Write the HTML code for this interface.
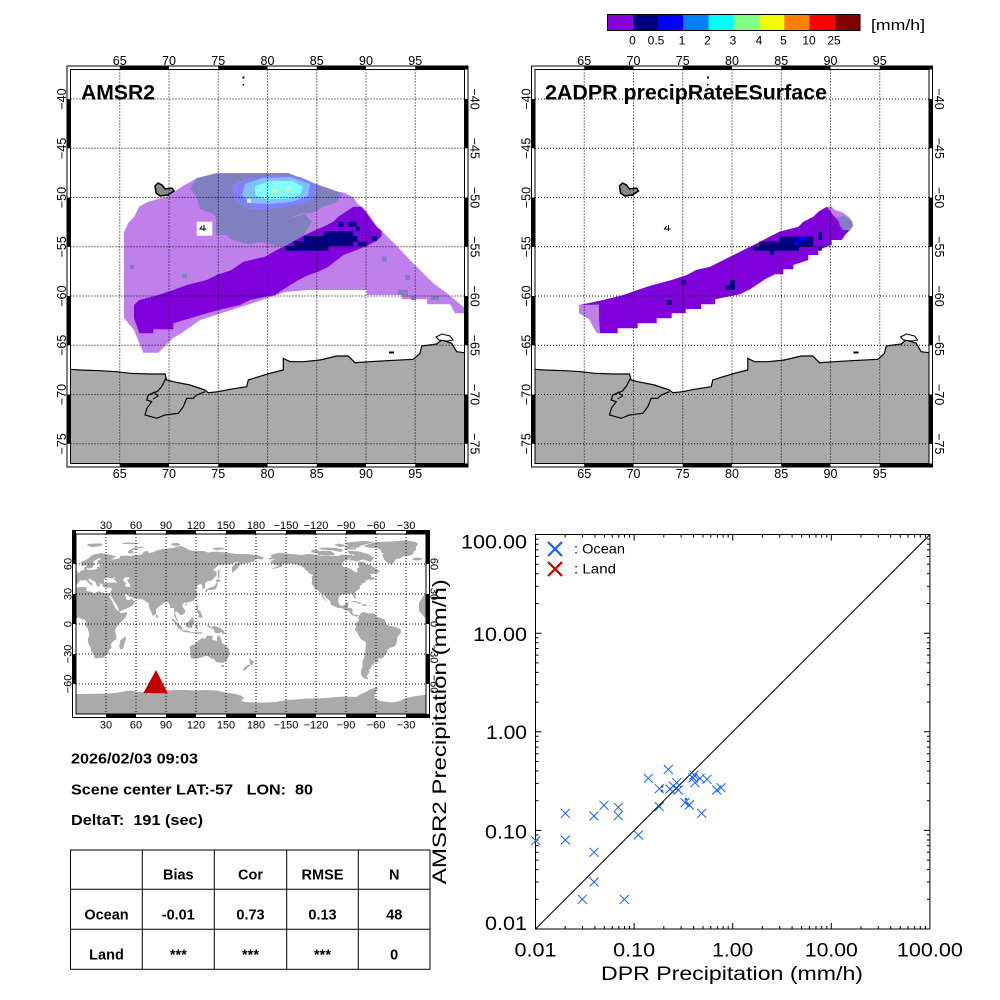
<!DOCTYPE html>
<html><head><meta charset="utf-8"><style>
html,body{margin:0;padding:0;background:#fff;}
svg{display:block;font-family:"Liberation Sans",Arial,sans-serif;}
</style></head><body>
<svg width="1000" height="1000" viewBox="0 0 1000 1000" xmlns="http://www.w3.org/2000/svg">
<defs>
<clipPath id="cl"><rect x="70.5" y="69.5" width="394" height="394"/></clipPath>
<clipPath id="cr"><rect x="535" y="69.5" width="394" height="394"/></clipPath>
<clipPath id="cw"><rect x="76" y="534" width="350" height="180"/></clipPath>
<g id="coast">
<polygon fill="#aaaaaa" points="70.5,369.3 80,370 100,370.7 116.7,371.7 130,373.3 150,374 165,374 166.7,380 173.3,381.7 190,385 205,390 208.3,392.7 218.3,391.7 230,389.3 246.7,386.7 248.3,380 256.7,377.3 270,373.3 283.3,370 283.3,358.3 290,361.7 303.3,361.7 320,360 336.7,356 348.3,356 355,362.7 370,361.7 386.7,360.7 413.3,359.3 420,353.3 421.7,346 436.7,344 441.7,340 451.7,343.3 456.7,351.7 464.5,352.7 464.5,463.5 70.5,463.5"/>
<polyline fill="none" stroke="#000" stroke-width="1.2" points="70.5,369.3 80,370 100,370.7 116.7,371.7 130,373.3 150,374 165,374 166.7,380 173.3,381.7 190,385 205,390 208.3,392.7 218.3,391.7 230,389.3 246.7,386.7 248.3,380 256.7,377.3 270,373.3 283.3,370 283.3,358.3 290,361.7 303.3,361.7 320,360 336.7,356 348.3,356 355,362.7 370,361.7 386.7,360.7 413.3,359.3 420,353.3 421.7,346 436.7,344 441.7,340 451.7,343.3 456.7,351.7 464.5,352.7"/>
<polyline fill="none" stroke="#000" stroke-width="1.2" points="166,378 162,386 158,391 148.3,395 146.7,400 151.7,401.7 147,408 145,415 156.7,418.3 165,415 178.3,413.3 183.3,406.7 186.7,398.3 193.3,398.3 196.7,395 205,391.7"/>
<polyline fill="none" stroke="#000" stroke-width="1" points="150,395 154,392 158,396 153,399"/>
<rect x="389" y="351.5" width="5" height="2" fill="#000"/>
<path d="M436,337 l6,-3 l8,2 l3,4 l-6,1 l-8,-1 z" fill="#fff" stroke="#000"/>
<path d="M155,186 L158,183 L162,185 L165,189 L172,188 L174,191 L168,195 L160,196 L156,193 Z" fill="#888" stroke="#000" stroke-width="1.5"/>
<rect x="242.5" y="76.5" width="2" height="2" fill="#000"/>
<rect x="242.5" y="84" width="1.5" height="1.5" fill="#000"/>
</g>
<g id="grid" stroke="#000" stroke-width="1" stroke-dasharray="1,2" fill="none">
<path d="M119.75,69.5V463.5M169,69.5V463.5M218.25,69.5V463.5M267.5,69.5V463.5M316.75,69.5V463.5M366,69.5V463.5M415.25,69.5V463.5"/>
<path d="M70.5,99.05H464.5M70.5,148.3H464.5M70.5,197.55H464.5M70.5,246.8H464.5M70.5,296.05H464.5M70.5,345.3H464.5M70.5,394.55H464.5M70.5,443.8H464.5"/>
</g>
<g id="frm">
<rect x="67" y="66" width="401" height="401" fill="none" stroke="#000"/>
<rect x="70.5" y="69.5" width="394" height="394" fill="none" stroke="#000"/>
<g fill="#000">
<rect x="119.75" y="66" width="49.25" height="3.5"/><rect x="218.25" y="66" width="49.25" height="3.5"/><rect x="316.75" y="66" width="49.25" height="3.5"/><rect x="415.25" y="66" width="52.75" height="3.5"/>
<rect x="119.75" y="463.5" width="49.25" height="3.5"/><rect x="218.25" y="463.5" width="49.25" height="3.5"/><rect x="316.75" y="463.5" width="49.25" height="3.5"/><rect x="415.25" y="463.5" width="52.75" height="3.5"/>
<rect x="67" y="99.05" width="3.5" height="49.25"/><rect x="67" y="197.55" width="3.5" height="49.25"/><rect x="67" y="296.05" width="3.5" height="49.25"/><rect x="67" y="394.55" width="3.5" height="49.25"/>
<rect x="464.5" y="99.05" width="3.5" height="49.25"/><rect x="464.5" y="197.55" width="3.5" height="49.25"/><rect x="464.5" y="296.05" width="3.5" height="49.25"/><rect x="464.5" y="394.55" width="3.5" height="49.25"/>
</g>
</g>
</defs>

<!-- ===== Colorbar ===== -->
<g>
<rect x="607.5" y="14.5" width="25.25" height="16" fill="#8800dc"/>
<rect x="632.75" y="14.5" width="25.25" height="16" fill="#000080"/>
<rect x="658" y="14.5" width="25.25" height="16" fill="#0000ff"/>
<rect x="683.25" y="14.5" width="25.25" height="16" fill="#0080ff"/>
<rect x="708.5" y="14.5" width="25.25" height="16" fill="#00ffff"/>
<rect x="733.75" y="14.5" width="25.25" height="16" fill="#80ff80"/>
<rect x="759" y="14.5" width="25.25" height="16" fill="#f0ff00"/>
<rect x="784.25" y="14.5" width="25.25" height="16" fill="#ff8000"/>
<rect x="809.5" y="14.5" width="25.25" height="16" fill="#ff0000"/>
<rect x="834.75" y="14.5" width="25.25" height="16" fill="#800000"/>
<rect x="607.5" y="14.5" width="252.5" height="16" fill="none" stroke="#000"/>
<g font-size="12" text-anchor="middle">
<text x="632.5" y="44.5">0</text><text x="656" y="44.5">0.5</text><text x="682" y="44.5">1</text><text x="707.5" y="44.5">2</text><text x="733" y="44.5">3</text><text x="759" y="44.5">4</text><text x="783.5" y="44.5">5</text><text x="809" y="44.5">10</text><text x="834" y="44.5">25</text>
</g>
<text x="871" y="30" font-size="15" textLength="54" lengthAdjust="spacingAndGlyphs">[mm/h]</text>
</g>

<!-- ===== Left map (AMSR2) ===== -->
<g clip-path="url(#cl)">
<polygon fill="#c080ec" points="124,232 128.7,222.3 134.3,216.7 139,206.7 148,201.7 166.7,196.7 181.7,186.7 196.7,178.3 216,173.3 288,173 313,183 338,191.7 342.7,192.3 353.3,197.3 356.7,202.7 366.7,211.7 376.7,226.7 381.7,231 391.7,241 396.7,246 406.7,256.7 416.7,266.7 426.7,276.7 433.3,283.3 445,291.7 455,300 465,308.3 465,313.3 455,313.3 450,304.3 427,304.3 427,299.3 401.7,299.3 401.7,295 366.7,295 366.7,290 308,290 285,292 250,304 222,313 200,320 181.7,333 173,338 168,343 158.3,352.7 143.3,352.7 139.3,343.3 134,330 124,318"/>
<polygon fill="#8080c0" points="190,189 196.7,178.3 216,173.3 288,173 313,183 338,191.7 342,196 335,203 322,207 315,212 300,214 290,218 275,220 260,222 250,226 240,229 232,226 218,222 214,214 200,209 196,196"/>
<polygon fill="#8080c0" points="216,216 230,219 260,222 290,218 305,214 312,222 303,236 293,241 285,246 276,246 262,242 248,244 232,240 226,235 216,235"/>
<g fill="#8080c0"><rect x="130" y="265" width="4" height="4"/><rect x="182" y="274" width="5" height="4"/><rect x="381.7" y="256.7" width="5" height="5"/><rect x="405" y="275" width="5" height="5"/><rect x="398" y="290" width="10" height="5"/><rect x="411" y="296" width="5" height="4"/><rect x="431" y="296" width="8" height="4"/></g>
<polygon fill="#8080ff" points="232,185 250,178 275,175 300,177 318,185 315,198 300,205 280,207 260,210 245,208 235,200"/>
<polygon fill="#80c0ff" points="245,184 262,178 290,177 310,184 308,196 292,202 270,204 250,203 242,195"/>
<polygon fill="#80ffff" points="255,186 270,181 292,181 303,187 300,195 285,199 265,199 255,195"/>
<g fill="#c0ffc0"><rect x="272" y="189" width="5" height="4"/><rect x="286" y="187" width="4" height="4"/><rect x="247" y="199" width="4" height="4"/></g>
<polygon fill="#8000dc" points="134,305 139.3,300 158.3,295 173.3,290 186.7,285 206.7,280 216.7,275 231.7,270 243.3,261.7 265,256.7 276.7,250 285,246 303,236 313.3,231 323.3,226.7 333.3,221.7 338.3,216.7 353.3,206.7 361.7,206.7 366.7,213.3 376.7,226.7 381.7,231 381.7,236 376.7,241 366.7,246 356.7,250 343.3,255 328.3,266.7 318.3,271.7 308.3,275 298.3,280 285,288.3 275,295 265,296.7 250,300 240,305 221.7,309.3 206.7,313.3 186.7,319.3 173.3,323.3 173.3,329.3 153.3,329.3 153.3,333.3 139.3,333.3 134,318.3"/>
<polygon fill="#000080" points="285,246 293.3,246 293.3,241 303.3,241 303.3,236 323.3,236 323.3,231 353.3,231 353.3,236 357.3,236 357.3,241.7 353.3,241.7 353.3,246 328.3,246 328.3,250.7 285,250.7"/>
<g fill="#000080"><rect x="338.3" y="221.7" width="5" height="5"/><rect x="348.3" y="221.7" width="8.4" height="5"/><rect x="357.3" y="241.7" width="9.4" height="4.3"/><rect x="371.7" y="236" width="5" height="5"/><rect x="356" y="226.7" width="4" height="4.3"/></g>
<rect x="196.7" y="221.7" width="15.6" height="14" fill="#fff"/>
<path d="M202,226 l-2,3 h6 M204,225 v6" stroke="#000" fill="none" stroke-width="1"/>
<use href="#coast"/>
<use href="#grid"/>
</g>
<use href="#frm"/>
<text x="81" y="99.5" font-size="21" font-weight="bold" textLength="74" lengthAdjust="spacingAndGlyphs">AMSR2</text>
<g font-size="12.5" text-anchor="middle">
<text x="119.75" y="65">65</text><text x="169" y="65">70</text><text x="218.25" y="65">75</text><text x="267.5" y="65">80</text><text x="316.75" y="65">85</text><text x="366" y="65">90</text><text x="415.25" y="65">95</text>
<text x="119.75" y="478">65</text><text x="169" y="478">70</text><text x="218.25" y="478">75</text><text x="267.5" y="478">80</text><text x="316.75" y="478">85</text><text x="366" y="478">90</text><text x="415.25" y="478">95</text>
<text transform="translate(66,99.05) rotate(-90)">−40</text><text transform="translate(66,148.3) rotate(-90)">−45</text><text transform="translate(66,197.55) rotate(-90)">−50</text><text transform="translate(66,246.8) rotate(-90)">−55</text><text transform="translate(66,296.05) rotate(-90)">−60</text><text transform="translate(66,345.3) rotate(-90)">−65</text><text transform="translate(66,394.55) rotate(-90)">−70</text><text transform="translate(66,443.8) rotate(-90)">−75</text>
<text transform="translate(470.5,99.05) rotate(90)">−40</text><text transform="translate(470.5,148.3) rotate(90)">−45</text><text transform="translate(470.5,197.55) rotate(90)">−50</text><text transform="translate(470.5,246.8) rotate(90)">−55</text><text transform="translate(470.5,296.05) rotate(90)">−60</text><text transform="translate(470.5,345.3) rotate(90)">−65</text><text transform="translate(470.5,394.55) rotate(90)">−70</text><text transform="translate(470.5,443.8) rotate(90)">−75</text>
</g>

<!-- ===== Right map (DPR) ===== -->
<g clip-path="url(#cr)">
<polygon fill="#8000dc" points="579.3,305 603.3,300 623.3,295 637.3,290 652.7,285 671.7,280 686.7,275 696,270 710,266.7 720,261.7 730,256.7 740,251.7 750,246.7 760,241.7 779.3,231.7 798.3,226.7 803.3,221.7 813.3,216.7 818.3,211.7 826.7,206.7 831.7,206.7 838,215 845,222 851.7,228 845,235 841.7,240 831.7,240 831.7,245 818.3,250 818.3,255 808.3,255 808.3,260 793.3,265 793.3,269.3 783.3,269.3 783.3,274.3 775,274.3 765,279.3 750,289.3 740,294.3 715,299.3 715,304.3 701,304.3 701,309 685.7,309 685.7,313.3 671.7,313.3 671.7,318.3 656.7,318.3 656.7,323.3 637.7,323.3 637.7,328.3 617.7,328.3 617.7,333.3 599.3,333.3 594,328.3 589.3,319.3 579.3,313.3"/>
<polygon fill="#c080ec" points="579.3,305 599,304.5 599,318 600,333.3 597,333.3 594,328.3 589.3,319.3 579.3,313.3"/>
<polygon fill="#c080ec" points="826.7,206.7 831.7,206.7 835,210 842,212 850,218 853,225 850,230 845,230 840,222 833,215"/>
<polygon fill="#8080c0" points="837,217 845,216 852,221 853,226 850,230 843,230 840,226"/>
<g fill="#000080">
<rect x="779.3" y="236.7" width="34" height="10"/><rect x="759" y="241.7" width="40" height="9"/><rect x="753.3" y="246.7" width="10" height="4"/>
<rect x="818.3" y="231.7" width="3.4" height="8.3"/><rect x="818.3" y="246.7" width="3.4" height="4"/><rect x="681" y="280" width="4.7" height="4.3"/><rect x="725" y="285" width="10" height="5"/><rect x="730" y="280" width="5" height="5"/><rect x="666.7" y="300" width="5" height="5"/><rect x="769.3" y="250" width="4.7" height="5"/>
</g>
<g fill="#0000ff"><rect x="798.3" y="236.7" width="8.4" height="4"/><rect x="793.3" y="240.7" width="5" height="4.3"/></g>
<path d="M666.5,226 l-2,3 h6 M668.5,225 v6" stroke="#000" fill="none" stroke-width="1"/>
<use href="#coast" transform="translate(464.5,0)"/>
<use href="#grid" transform="translate(464.5,0)"/>
</g>
<use href="#frm" transform="translate(464.5,0)"/>
<text x="545" y="99.5" font-size="21" font-weight="bold" textLength="282" lengthAdjust="spacingAndGlyphs">2ADPR precipRateESurface</text>
<g font-size="12.5" text-anchor="middle">
<text x="584.25" y="65">65</text><text x="633.5" y="65">70</text><text x="682.75" y="65">75</text><text x="732" y="65">80</text><text x="781.25" y="65">85</text><text x="830.5" y="65">90</text><text x="879.75" y="65">95</text>
<text x="584.25" y="478">65</text><text x="633.5" y="478">70</text><text x="682.75" y="478">75</text><text x="732" y="478">80</text><text x="781.25" y="478">85</text><text x="830.5" y="478">90</text><text x="879.75" y="478">95</text>
<text transform="translate(530.5,99.05) rotate(-90)">−40</text><text transform="translate(530.5,148.3) rotate(-90)">−45</text><text transform="translate(530.5,197.55) rotate(-90)">−50</text><text transform="translate(530.5,246.8) rotate(-90)">−55</text><text transform="translate(530.5,296.05) rotate(-90)">−60</text><text transform="translate(530.5,345.3) rotate(-90)">−65</text><text transform="translate(530.5,394.55) rotate(-90)">−70</text><text transform="translate(530.5,443.8) rotate(-90)">−75</text>
<text transform="translate(935,99.05) rotate(90)">−40</text><text transform="translate(935,148.3) rotate(90)">−45</text><text transform="translate(935,197.55) rotate(90)">−50</text><text transform="translate(935,246.8) rotate(90)">−55</text><text transform="translate(935,296.05) rotate(90)">−60</text><text transform="translate(935,345.3) rotate(90)">−65</text><text transform="translate(935,394.55) rotate(90)">−70</text><text transform="translate(935,443.8) rotate(90)">−75</text>
</g>

<!-- ===== World map ===== -->
<g clip-path="url(#cw)">
<g transform="translate(76,624) scale(1,-1)" fill="#aaaaaa">
<g id="eaf">
<polygon points="-10,36 -9,43 -2,43.5 -1.5,46 -5,48 -1,49.5 2,51 4,52 5,53.5 8,54 8.5,57 10.5,57.5 10.5,59 6,58 5,60 5,62 9,63.5 13,66 16,69 20,70 25,71 30,70 33,69.5 40,67.5 38,66 35,65 38,64.5 44,66 44,68 50,68.5 55,68 60,69 66,69.5 68,72.5 72,73 73,71 78,72 80,73.5 87,75 97,76 101,77.5 105,78 108,77 113,74 119,73 128,73 132,71.5 140,72.5 150,71.5 160,70 170,70 180,69 188,66.5 186,64.5 180,65 178,62.5 172,61 165,60 163,58 162,56 156,51 156,57 160,61 164,62 160,62 155,59.5 150,59.5 143,59 137,54 141,52 140,48 135,43 132,43 129,41 129,36 126,35 126.5,37.5 125,40 121.5,39 121,37.5 122.5,37 119,35 121,32 122,30 120,26 117,23 113,22 110,21 108,21.5 106,18 109,14 109,11 106,9 104.5,9 103,10.5 100,13 99,10 100.5,7 101,5 103,2 104,1.5 101,3 98,8 98.5,12 98,16 94,16 94,19 92,22 90,22 87,21 86.5,20 80,15 80,10 77,8 76,10 73,17 72.5,21 70,22.5 67,24.5 62,25 57.5,25.5 56,27 54,27 50,30 48,30 50,26.5 51,24 54,24 56,26 57,23.5 59.5,22.5 57,19 55,17.5 52,16 45,13 43,12.5 42.5,15 40,20 38.5,22 37,25 35,28 34.5,29.5 34,31 35,33 36,35.5 33,36.5 30,36.5 27,37 26.5,40 23.5,40.5 24,38.5 22,37 21,38.5 20,40 19.5,42 13.5,45.5 12.3,44.2 14,42 16.5,40.5 16,38 15.5,38.5 12,41.5 10,44 7,43.5 4,43.5 3,42 0,39 -0.5,38 -2,36.7 -5.5,36"/>
<polygon points="-17,15 -17,21 -13,27.5 -10,30 -9.5,32.5 -6,35.8 -2,35.2 3,36.8 10,37.2 11,35 10,34 11,33 15,32.3 19,30.5 20,32 23,32.7 25,31.7 29,31 32,31.2 34,31.3 34.3,28 33,28 35.5,24 37,21 38.5,18 39.5,15.5 41,14 43.3,12.5 44,11 51,11.8 51,10 49,6 47,4 43,0 41,-2 39.5,-5 39,-8 40,-10.5 40.5,-15 37,-17.5 35,-20 35.5,-22 35.5,-24 32.8,-26 32.5,-29 30,-31.5 27,-33.8 22,-34 20,-34.8 18.5,-34 18,-32 17,-29 15,-27 14.5,-23 13,-21 11.8,-17 12,-14 13.5,-12 13,-9 12,-6 12.3,-5 9,-1 9.5,2 9.5,3.5 8.5,4.5 6,4.3 4,6.3 2,6.3 -2,4.8 -5,5.2 -8,4.4 -11.5,6.8 -13.3,9 -15,11 -16.7,12.5"/>
<polygon points="44,-25 47,-25 49.5,-16 50.3,-15.5 49.2,-12 47,-14 44.3,-16.5 43.3,-22"/>
<polygon points="80,9.8 82,8 81.5,6.2 80,6 79.8,8"/>
<polygon points="-5.5,50 1.5,51 1.7,52.8 0,53.5 -1.5,55 -2,57 -3.5,58.5 -5,58.6 -6,57 -5.5,55.5 -3,54.5 -4.5,53.3 -4.5,52 -5,51.6"/>
<polygon points="-10,51.5 -6,52 -6,54.2 -7.5,55.3 -10,54"/>
<polygon points="11,78.5 16,77 22,77.5 27,79 25,80.5 18,80.5 12,80"/>
<polygon points="52,71 55,70.5 58,71 56,73.5 62,75.5 68,76.5 67,77 60,76.8 55,75 52,72.5"/>
<polygon points="95,79 100,78 105,79 102,81 96,80.8"/>
<polygon points="136,75 141,74 150,75 145,76.5 138,76"/>
<polygon points="45,80 60,80 65,81 50,81.5"/>
<polygon points="130,31 132,34 136,34 140,35 141,38 142,41 140,41 139,38 136,37 132,35.5 129,33"/>
<polygon points="140,42 142,42 145,43 142,45.5 140,43.5"/>
<polygon points="142,46 143.5,46 143.5,54 142,54"/>
<polygon points="120.5,22 121.8,24.5 121.5,25.3 120.2,23.5"/>
<polygon points="108.7,18.5 110.5,18.2 111,20 109.5,20"/>
<polygon points="120,18.5 122.3,18.5 122,14 124.3,13 125.5,10 126.5,7 125.5,6 122,7 123,9.5 121.5,11 120.5,14.5"/>
<polygon points="109,1.5 110,-2.5 111.5,-3.5 116,-4 116.5,-1 118,1 119,1.5 117.5,4.5 117,7 116,6.5 115,5 113,3.3 111,1.5"/>
<polygon points="95.3,5.5 97.5,5.2 100.5,2 103.7,-1 106,-3 106,-5.8 104.5,-5.8 102,-4 100.5,-1 98.5,1.7 96,3.8"/>
<polygon points="105.3,-6 108,-6.3 111,-6.5 114.5,-7.7 114.5,-8.7 110,-8.2 106,-7.4"/>
<polygon points="115,-8.2 122,-8.2 125,-8.4 127,-8 125,-9.9 119,-9.2 115,-9.2"/>
<polygon points="119,-5.5 119.5,-3 119,-1 120,1 124.5,1.5 125,1 121,0.5 120.5,-1 123,-1 121.5,-2.5 122,-5 120.5,-5.5 120.5,-3"/>
<polygon points="131,-1 132.5,-0.5 135,-3.3 138,-1.8 141,-2.6 144.5,-4 146,-5.5 147.5,-6 148,-8 150,-10.3 147,-10 145,-8 143.5,-9.2 141,-9.1 138.5,-8.3 137.5,-5 134,-4 132,-2.5"/>
<polygon points="114,-22 114,-26 115,-34 118,-35 124,-34 129,-32 132,-32 135,-34.5 138,-35 140,-38 146,-39 150,-37.5 153,-32 153,-25 150,-22 146,-19 145,-15 143,-11 141,-13 141,-17 136,-15.5 137,-12 131,-11.5 129,-15 126,-14 122,-17 119,-20"/>
<polygon points="145,-41 148,-41 148,-43 146,-43.5"/>
<polygon points="173,-34.5 178.5,-37.5 177,-39.5 175,-41.5 174,-39.5"/>
<polygon points="172.5,-40.5 174.5,-41.5 171,-44 169,-46.5 166.5,-46 168,-44"/>
</g>
<g fill="#fff">
<polygon points="28,41 28,44.5 30.5,46.5 33,46 36,45.5 39,47 38,44.5 41.5,41.5 36,41.5 31,41"/>
<polygon points="47,44.5 49,46.5 53,47 53.5,45 51,44.5 52.5,41.5 54,40 54,37 51,37 49,38.5 50,40.5 49.5,41.5 47.5,43"/>
<polygon points="10.5,54.5 14,54 19,54.5 21,55.5 21,57 22,57.5 24,57 23.5,59 30,60 23,60 21.5,61 21.5,63.5 25,65 23,66 20,64 17.5,62.5 17.5,61 19,60 18,59 16.5,57 16,56 13,55.5 11,56"/>
</g>
<use href="#eaf" x="360"/>
<g transform="translate(360,0)">
<polygon points="-168,65.5 -164,67 -166,68.8 -162,70 -156.5,71.3 -150,70.5 -141,69.7 -135,69 -128,70 -121,69.5 -115,68 -108,68 -98,68 -94,69.5 -90,68.5 -85,69.5 -82,67.5 -86,66 -87,64.5 -92,63 -94.5,59 -92.5,57 -88,56 -85,55.2 -82,52.5 -79.5,51.5 -78.5,53 -79,55 -77,57 -77.5,60 -78,62.5 -73,62 -70,60.5 -69,59 -65,60 -64,58 -61.5,56 -59,55 -56,52.5 -60,50.2 -66.5,50 -64.5,48.5 -65,47 -61,46 -60,45.5 -65.5,43.5 -66.2,44.6 -67,44.6 -70,43.7 -70.7,42 -70,41.7 -74,40.5 -74,39.5 -75.5,38.5 -76.3,37 -76,35.5 -77.5,34.5 -79,33.5 -81,31.8 -81.3,30 -80,27 -80.2,25.3 -81.2,25.3 -82.5,27.5 -82.8,29 -84,30 -86,30.4 -89,30.3 -90,29.2 -92,29.6 -94,29.6 -97,27.8 -97.5,25 -97.8,22 -97,20 -96,18.8 -94.5,18.3 -92,18.6 -91,19.2 -90.5,21 -87.3,21.5 -87.5,19 -88.3,16.5 -86,16 -84,15.5 -83.3,14 -83.6,11 -82,9 -80,9.4 -78,9.2 -77.3,8.4 -78,7.8 -80,7.3 -80.4,8 -81.5,8 -83,8.3 -85.7,10 -85.8,11.2 -87.5,12.9 -89,13.5 -91.5,14 -93.5,15.7 -96,15.7 -98.5,16.2 -101,17.3 -104.5,19 -105.6,20.5 -105.3,22 -106,23 -109,25.5 -111,27.5 -112.8,30 -114.8,31.8 -114.2,30 -112.5,28 -110.3,24 -109.5,23 -110.5,23.3 -112,25 -114,27.8 -115,30 -116.7,31.8 -117.3,33 -118.5,34 -120.6,34.6 -121.9,36.5 -122.5,37.8 -123.8,39.5 -124.3,40.5 -124,43 -124,46.2 -124.7,48.4 -123,48.2 -123.2,49.2 -125,50 -127.5,51 -128,52.5 -130.5,54.3 -132,56 -135,58 -136.5,58.5 -139.5,59.5 -143,60 -146,60.8 -148,60 -151,59.2 -151.8,60.8 -154,59 -154,57.5 -157,56.6 -161,55.5 -164.6,54.5 -163,55.8 -158,58 -157,58.8 -162,58.7 -162,60 -164.7,60.7 -165.3,62 -164.5,63.2 -161,64.3 -161,64.6 -164.5,64.5 -166.2,64.6"/>
<polygon points="-80,62.5 -73,64.5 -65,62 -62,66.5 -68,70 -78,72.7 -89,73.3 -86,69.8 -81,69.3 -85,66 -84.5,64.5"/>
<polygon points="-118,69 -111,68.3 -101.5,68.8 -101,70 -105.5,73 -114,73.3 -119,71.6"/>
<polygon points="-125,71.9 -121,71 -116,72.5 -119,74.3 -124,74"/>
<polygon points="-114,74.5 -103,73.5 -95,72 -93,74.5 -100,76 -110,76.5 -118,76"/>
<polygon points="-92,74.6 -80,74.5 -80,76 -90,76.8"/>
<polygon points="-90,76.8 -78,76.2 -75,78.5 -63,81.5 -62,82.3 -72,83 -85,82 -92,80.8 -88,79"/>
<polygon points="-96,77 -88,78 -97,80.5 -102,79.5"/>
<polygon points="-86,63.5 -80.5,63.5 -82,65.7 -86.5,65.8"/>
<polygon points="-73,78 -67,80 -60,82 -45,82.5 -30,83.6 -20,82 -18,80 -20,77 -20,74 -23,72 -22,70.5 -26,68.5 -32,68 -36,65.5 -40,65 -42,62 -44,60 -48,61 -50,62.5 -52,64.5 -53,66.5 -54,69 -52,70.5 -55,71.5 -55,73.5 -57.5,75.5 -62,76 -68,76.5"/>
<polygon points="-24,64 -22.5,65.5 -22,66.4 -17,66.3 -14.5,65.8 -13.6,65 -15,64.2 -18.5,63.4 -22,63.8"/>
<polygon points="-85,21.9 -83.5,23 -81,23.2 -77,21.8 -74.2,20.2 -77.5,19.8 -78,20.7 -81.5,22.1 -83,22 -84.3,21.6"/>
<polygon points="-74.4,18.4 -72.8,19.9 -70,19.8 -68.4,18.5 -70.4,18.2 -72,18 -74,18.2"/>
<polygon points="-67.2,17.9 -65.6,17.9 -65.6,18.5 -67.2,18.5"/>
<polygon points="-77.3,8.4 -76.5,8.6 -75.5,10.5 -74,11.2 -72,12.3 -71.2,11 -71.5,10.5 -70,11.6 -68,10.6 -64,10.6 -61.5,10.6 -60.5,8.4 -58,6.7 -55,5.9 -52,4.8 -51,4 -50,1.8 -50,0 -48.5,-1 -44.5,-2.3 -41,-2.9 -38,-4.2 -35.2,-5.4 -34.8,-7.5 -35.2,-9 -37,-11 -38.7,-13 -39,-17.5 -39.8,-19.7 -41,-22 -43,-23 -45.5,-23.7 -48.5,-25.8 -48.6,-28.2 -50.5,-30.5 -52.5,-33 -53.8,-34.5 -56,-34.8 -58.3,-34.2 -57.3,-36.3 -57.7,-38.2 -62,-38.8 -62.3,-40.8 -65,-41 -63.8,-42.2 -65,-43 -65.3,-45 -67.5,-46 -66,-47.8 -68,-50 -69,-51.5 -68.4,-52.4 -70,-52.8 -68.5,-53.5 -67.5,-54.8 -69,-55.3 -72,-54.3 -74,-52.5 -75.3,-50 -74.6,-48 -75.5,-46.5 -74,-44.5 -73.2,-41.8 -73.7,-39.5 -73.3,-37 -71.7,-33 -71.4,-29 -70.5,-25 -70.2,-21 -70.3,-18.3 -71.5,-17.3 -75,-15.3 -76.3,-13.5 -77.2,-11.8 -79,-8 -80.5,-6.5 -81.2,-5.5 -80.3,-3.5 -79.8,-2.2 -80.9,-1.2 -80.1,0.8 -78.8,1.7 -77.5,3.5 -77.3,4 -77.5,6.8"/>
<polygon points="-61.3,-51.3 -57.8,-51.3 -57.8,-52.3 -61.3,-52.3"/>
</g>
<polygon points="-5,-71 0,-70 10,-70 20,-69.8 30,-69.5 40,-69 50,-67 55,-66.5 60,-67.5 70,-68.5 72,-70 75,-69.5 80,-67.5 90,-66.5 100,-66 110,-66 120,-66.5 130,-66 140,-66.5 150,-68.5 160,-70 165,-71.5 168,-74 165,-77 170,-78 180,-78.5 190,-78.5 200,-78 205,-77 210,-76 220,-75.5 230,-74.5 240,-74.5 250,-74 260,-73 270,-72.5 280,-73 285,-70 290,-68 295,-65 300,-63.5 302,-64 300,-68 298,-72 300,-75 305,-77 315,-78.5 322,-77.5 326,-76 330,-74 335,-73 340,-72 350,-70.8 360,-70 365,-70 365,-91 -5,-91"/>
</g>
<g stroke="#000" stroke-width="1" stroke-dasharray="1,2" fill="none">
<path d="M106,534V714M136,534V714M166,534V714M196,534V714M226,534V714M256,534V714M286,534V714M316,534V714M346,534V714M376,534V714M406,534V714"/>
<path d="M76,564H426M76,594H426M76,624H426M76,654H426M76,684H426"/>
</g>
</g>
<polygon points="156,670 143.3,693.3 167.7,693.3" fill="#c00000"/>
<rect x="72.5" y="530.5" width="357" height="187" fill="none" stroke="#000"/>
<rect x="76" y="534" width="350" height="180" fill="none" stroke="#000"/>
<g fill="#000">
<rect x="106" y="530.5" width="30" height="3.5"/><rect x="166" y="530.5" width="30" height="3.5"/><rect x="226" y="530.5" width="30" height="3.5"/><rect x="286" y="530.5" width="30" height="3.5"/><rect x="346" y="530.5" width="30" height="3.5"/><rect x="406" y="530.5" width="23.5" height="3.5"/>
<rect x="106" y="714" width="30" height="3.5"/><rect x="166" y="714" width="30" height="3.5"/><rect x="226" y="714" width="30" height="3.5"/><rect x="286" y="714" width="30" height="3.5"/><rect x="346" y="714" width="30" height="3.5"/><rect x="406" y="714" width="23.5" height="3.5"/>
<rect x="72.5" y="530.5" width="3.5" height="33.5"/><rect x="72.5" y="594" width="3.5" height="30"/><rect x="72.5" y="654" width="3.5" height="30"/>
<rect x="426" y="530.5" width="3.5" height="33.5"/><rect x="426" y="594" width="3.5" height="30"/><rect x="426" y="654" width="3.5" height="30"/>
</g>
<g font-size="11" text-anchor="middle">
<text x="106" y="529">30</text><text x="136" y="529">60</text><text x="166" y="529">90</text><text x="196" y="529">120</text><text x="226" y="529">150</text><text x="256" y="529">180</text><text x="286" y="529">−150</text><text x="316" y="529">−120</text><text x="346" y="529">−90</text><text x="376" y="529">−60</text><text x="406" y="529">−30</text>
<text x="106" y="728.5">30</text><text x="136" y="728.5">60</text><text x="166" y="728.5">90</text><text x="196" y="728.5">120</text><text x="226" y="728.5">150</text><text x="256" y="728.5">180</text><text x="286" y="728.5">−150</text><text x="316" y="728.5">−120</text><text x="346" y="728.5">−90</text><text x="376" y="728.5">−60</text><text x="406" y="728.5">−30</text>
<text transform="translate(71.5,564) rotate(-90)">60</text><text transform="translate(71.5,594) rotate(-90)">30</text><text transform="translate(71.5,624) rotate(-90)">0</text><text transform="translate(71.5,654) rotate(-90)">−30</text><text transform="translate(71.5,684) rotate(-90)">−60</text>
<text transform="translate(430.5,564) rotate(90)">60</text><text transform="translate(430.5,594) rotate(90)">30</text><text transform="translate(430.5,624) rotate(90)">0</text><text transform="translate(430.5,654) rotate(90)">−30</text><text transform="translate(430.5,684) rotate(90)">−60</text>
</g>

<!-- ===== Info text & table ===== -->
<g font-size="15" font-weight="bold">
<text x="71" y="763.5" textLength="127" lengthAdjust="spacingAndGlyphs">2026/02/03 09:03</text>
<text x="71" y="794.5" textLength="242" lengthAdjust="spacingAndGlyphs" xml:space="preserve">Scene center LAT:-57   LON:  80</text>
<text x="71" y="825" textLength="132" lengthAdjust="spacingAndGlyphs" xml:space="preserve">DeltaT:  191 (sec)</text>
</g>
<g stroke="#000" stroke-width="1" fill="none">
<rect x="70.5" y="850" width="359.5" height="119.3"/>
<path d="M142.3,850V969.3M214.3,850V969.3M286.7,850V969.3M358.3,850V969.3M70.5,889.3H430M70.5,929.3H430"/>
</g>
<g font-size="14.5" font-weight="bold" text-anchor="middle">
<text x="178.3" y="879.5">Bias</text><text x="250.5" y="879.5">Cor</text><text x="322.5" y="879.5">RMSE</text><text x="394.2" y="879.5">N</text>
<text x="106.5" y="919.5">Ocean</text><text x="178.3" y="919.5">-0.01</text><text x="250.5" y="919.5">0.73</text><text x="322.5" y="919.5">0.13</text><text x="394.2" y="919.5">48</text>
<text x="106.5" y="959.5">Land</text><text x="178.3" y="959.5">***</text><text x="250.5" y="959.5">***</text><text x="322.5" y="959.5">***</text><text x="394.2" y="959.5">0</text>
</g>

<!-- ===== Scatter plot ===== -->
<rect x="535.5" y="534.5" width="394.4" height="394.5" fill="none" stroke="#000"/>
<line x1="535.5" y1="929" x2="929.9" y2="534.6" stroke="#000" stroke-width="1"/>
<g stroke="#000" stroke-width="1" fill="none">
<path d="M535.5,830.4h6M535.5,731.8h6M535.5,633.2h6M929.9,830.4h-6M929.9,731.8h-6M929.9,633.2h-6M634.1,929v-6M732.7,929v-6M831.3,929v-6M634.1,534.6v6M732.7,534.6v6M831.3,534.6v6"/>
<path d="M535.5,899.3h3M535.5,882h3M535.5,869.6h3M535.5,860.1h3M535.5,852.3h3M535.5,845.7h3M535.5,840h3M535.5,834.9h3M535.5,800.7h3M535.5,783.4h3M535.5,771h3M535.5,761.5h3M535.5,753.7h3M535.5,747.1h3M535.5,741.4h3M535.5,736.3h3M535.5,702.1h3M535.5,684.8h3M535.5,672.4h3M535.5,662.9h3M535.5,655.1h3M535.5,648.5h3M535.5,642.8h3M535.5,637.7h3M535.5,603.5h3M535.5,586.2h3M535.5,573.8h3M535.5,564.3h3M535.5,556.5h3M535.5,549.9h3M535.5,544.2h3M535.5,539.1h3"/>
<path d="M929.9,899.3h-3M929.9,882h-3M929.9,869.6h-3M929.9,860.1h-3M929.9,852.3h-3M929.9,845.7h-3M929.9,840h-3M929.9,834.9h-3M929.9,800.7h-3M929.9,783.4h-3M929.9,771h-3M929.9,761.5h-3M929.9,753.7h-3M929.9,747.1h-3M929.9,741.4h-3M929.9,736.3h-3M929.9,702.1h-3M929.9,684.8h-3M929.9,672.4h-3M929.9,662.9h-3M929.9,655.1h-3M929.9,648.5h-3M929.9,642.8h-3M929.9,637.7h-3M929.9,603.5h-3M929.9,586.2h-3M929.9,573.8h-3M929.9,564.3h-3M929.9,556.5h-3M929.9,549.9h-3M929.9,544.2h-3M929.9,539.1h-3"/>
<path d="M565.2,929v-3M582.5,929v-3M594.9,929v-3M604.4,929v-3M612.2,929v-3M618.8,929v-3M624.5,929v-3M629.6,929v-3M663.8,929v-3M681.1,929v-3M693.5,929v-3M703,929v-3M710.8,929v-3M717.4,929v-3M723.1,929v-3M728.2,929v-3M762.4,929v-3M779.7,929v-3M792.1,929v-3M801.6,929v-3M809.4,929v-3M816,929v-3M821.7,929v-3M826.8,929v-3M861,929v-3M878.3,929v-3M890.7,929v-3M900.2,929v-3M908,929v-3M914.6,929v-3M920.3,929v-3M925.4,929v-3"/>
<path d="M565.2,534.6v3M582.5,534.6v3M594.9,534.6v3M604.4,534.6v3M612.2,534.6v3M618.8,534.6v3M624.5,534.6v3M629.6,534.6v3M663.8,534.6v3M681.1,534.6v3M693.5,534.6v3M703,534.6v3M710.8,534.6v3M717.4,534.6v3M723.1,534.6v3M728.2,534.6v3M762.4,534.6v3M779.7,534.6v3M792.1,534.6v3M801.6,534.6v3M809.4,534.6v3M816,534.6v3M821.7,534.6v3M826.8,534.6v3M861,534.6v3M878.3,534.6v3M890.7,534.6v3M900.2,534.6v3M908,534.6v3M914.6,534.6v3M920.3,534.6v3M925.4,534.6v3"/>
</g>
<path stroke="#1060ff" stroke-width="1" fill="none" d="M531.2,836.2l9,9M531.2,845.2l9,-9M560.8,808.8l9,9M560.8,817.8l9,-9M560.8,835.5l9,9M560.8,844.5l9,-9M589.5,811.5l9,9M589.5,820.5l9,-9M589.5,847.8l9,9M589.5,856.8l9,-9M589.5,877.5l9,9M589.5,886.5l9,-9M577.8,894.8l9,9M577.8,903.8l9,-9M599.5,800.8l9,9M599.5,809.8l9,-9M613.8,802.8l9,9M613.8,811.8l9,-9M613.8,811.2l9,9M613.8,820.2l9,-9M619.8,894.8l9,9M619.8,903.8l9,-9M633.8,830.5l9,9M633.8,839.5l9,-9M643.8,773.8l9,9M643.8,782.8l9,-9M654.8,784.2l9,9M654.8,793.2l9,-9M654.8,802.2l9,9M654.8,811.2l9,-9M663.8,764.8l9,9M663.8,773.8l9,-9M665.5,784.5l9,9M665.5,793.5l9,-9M668.8,781.5l9,9M668.8,790.5l9,-9M672.2,778.2l9,9M672.2,787.2l9,-9M673.8,785.5l9,9M673.8,794.5l9,-9M680.5,798.2l9,9M680.5,807.2l9,-9M684.8,800.5l9,9M684.8,809.5l9,-9M689.5,770.5l9,9M689.5,779.5l9,-9M690.5,778.2l9,9M690.5,787.2l9,-9M695.5,773.8l9,9M695.5,782.8l9,-9M702.5,774.8l9,9M702.5,783.8l9,-9M697.2,808.8l9,9M697.2,817.8l9,-9M712.2,785.5l9,9M712.2,794.5l9,-9M716.5,783.2l9,9M716.5,792.2l9,-9M688.5,773.5l9,9M688.5,782.5l9,-9"/>
<g fill="#1060ff"><circle cx="662" cy="786.5" r="1.3"/><circle cx="662" cy="791" r="1.3"/><circle cx="686" cy="799" r="1.3"/><circle cx="687.5" cy="803.5" r="1.3"/></g>
<path stroke="#1060ff" stroke-width="2.2" d="M548,542l14,14M548,556l14,-14"/>
<path stroke="#cc0000" stroke-width="2.2" d="M548,562l14,14M548,576l14,-14"/>
<text x="574" y="553.5" font-size="14" textLength="51" lengthAdjust="spacingAndGlyphs">: Ocean</text>
<text x="574" y="573.5" font-size="14" textLength="42" lengthAdjust="spacingAndGlyphs">: Land</text>
<g font-size="19">
<g text-anchor="end">
<text x="527" y="548.5" textLength="66" lengthAdjust="spacingAndGlyphs">100.00</text>
<text x="527" y="641" textLength="54" lengthAdjust="spacingAndGlyphs">10.00</text>
<text x="527" y="739" textLength="41" lengthAdjust="spacingAndGlyphs">1.00</text>
<text x="527" y="838.5" textLength="42" lengthAdjust="spacingAndGlyphs">0.10</text>
<text x="527" y="930" textLength="42" lengthAdjust="spacingAndGlyphs">0.01</text>
</g>
<g text-anchor="middle">
<text x="535.5" y="956.5" textLength="42" lengthAdjust="spacingAndGlyphs">0.01</text>
<text x="634.1" y="956.5" textLength="42" lengthAdjust="spacingAndGlyphs">0.10</text>
<text x="732.7" y="956.5" textLength="41" lengthAdjust="spacingAndGlyphs">1.00</text>
<text x="831.3" y="956.5" textLength="53" lengthAdjust="spacingAndGlyphs">10.00</text>
<text x="929.9" y="956.5" textLength="66" lengthAdjust="spacingAndGlyphs">100.00</text>
<text x="732" y="980" textLength="262" lengthAdjust="spacingAndGlyphs">DPR Precipitation (mm/h)</text>
<text transform="translate(446,731.7) rotate(-90)" textLength="305" lengthAdjust="spacingAndGlyphs">AMSR2 Precipitation (mm/h)</text>
</g>
</g>
</svg>
</body></html>
